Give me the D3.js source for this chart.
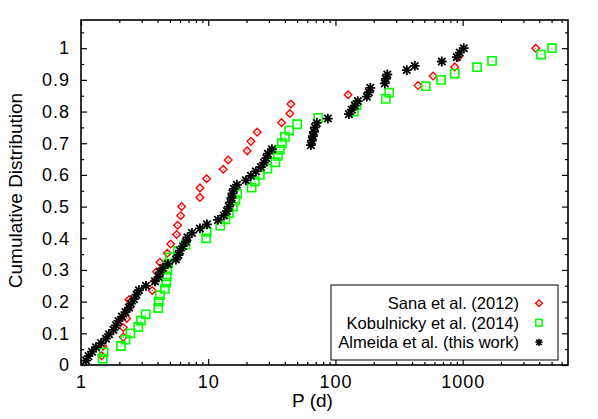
<!DOCTYPE html>
<html>
<head>
<meta charset="utf-8">
<script src="https://cdn.jsdelivr.net/npm/d3@7"></script>
<style>
  body { margin: 0; background: #fff; }
  text { font-family: "Liberation Sans", Arial, Helvetica, sans-serif; fill: #000; }
</style>
</head>
<body>
<div id="chart"></div>
<script>
// Sana et al. (2012)
const sanaP = [1.454, 1.489, 2.149, 2.15, 2.286, 2.34, 2.383, 3.632, 3.814, 3.932,
  4.175, 4.764, 5.066, 5.646, 5.749, 6.071, 6.182, 8.6, 8.607, 9.714,
  13.12, 14.36, 20.25, 21.65, 24.26, 37.72, 43.84, 44.63, 125.8, 446.1,
  585.6, 866.9, 920.2, 3752];
const sanaF = [0.029, 0.059, 0.088, 0.118, 0.147, 0.176, 0.206, 0.235, 0.265, 0.294,
  0.324, 0.353, 0.382, 0.412, 0.441, 0.471, 0.5, 0.529, 0.559, 0.588,
  0.618, 0.647, 0.676, 0.706, 0.735, 0.765, 0.794, 0.824, 0.853, 0.882,
  0.912, 0.941, 0.971, 1.0];

// Kobulnicky et al. (2014)
const kobP = [1.481, 1.508, 2.062, 2.236, 2.448, 2.819, 2.96, 3.224, 4.048, 4.086,
  4.175, 4.57, 4.679, 4.713, 4.782, 4.852, 5.003, 5.76, 6.623, 9.645,
  9.714, 12.43, 13.65, 14.54, 15.63, 16.36, 16.9, 21.93, 23.28, 25.48,
  29.17, 33.72, 35.28, 36.58, 37.93, 40.05, 43.28, 50.03, 73.13, 139.5,
  146.5, 248.9, 264.2, 513.1, 676.7, 866.9, 1298, 1702, 4129, 5040];
const kobF = [0.02, 0.04, 0.06, 0.08, 0.1, 0.12, 0.14, 0.16, 0.18, 0.2,
  0.22, 0.24, 0.26, 0.28, 0.3, 0.32, 0.34, 0.36, 0.38, 0.4,
  0.42, 0.44, 0.46, 0.48, 0.5, 0.52, 0.54, 0.56, 0.58, 0.6,
  0.62, 0.64, 0.66, 0.68, 0.7, 0.72, 0.74, 0.76, 0.78, 0.8,
  0.82, 0.84, 0.86, 0.88, 0.9, 0.92, 0.94, 0.96, 0.98, 1.0];

// Almeida et al. (this work)
const almP = [1.095, 1.145, 1.22, 1.312, 1.436, 1.572, 1.66, 1.8, 1.884, 1.97,
  2.099, 2.236, 2.383, 2.47, 2.609, 2.729, 2.855, 3.241, 3.814, 4.063,
  4.175, 4.407, 4.825, 5.576, 5.834, 5.994, 6.329, 6.681, 6.865, 7.447,
  8.607, 9.768, 11.92, 13.29, 14.03, 14.54, 14.94, 15.22, 15.49, 15.92,
  16.81, 19.78, 21.65, 23.7, 25.94, 27.39, 28.66, 29.44, 31.65, 64.11,
  65.27, 66.46, 67.68, 68.92, 71.42, 87.17, 127.5, 134.5, 142, 150,
  176.5, 183, 188, 244.4, 248.9, 255.7, 363.9, 420.5, 685.3, 898.8,
  948.9, 1020];
const almF = [0.014, 0.028, 0.042, 0.056, 0.069, 0.083, 0.097, 0.111, 0.125, 0.139,
  0.153, 0.167, 0.181, 0.194, 0.208, 0.222, 0.236, 0.25, 0.264, 0.278,
  0.292, 0.306, 0.319, 0.333, 0.347, 0.361, 0.375, 0.389, 0.403, 0.417,
  0.431, 0.444, 0.458, 0.472, 0.486, 0.5, 0.514, 0.528, 0.542, 0.556,
  0.569, 0.583, 0.597, 0.611, 0.625, 0.639, 0.653, 0.667, 0.681, 0.694,
  0.708, 0.722, 0.736, 0.75, 0.764, 0.778, 0.792, 0.806, 0.819, 0.833,
  0.847, 0.861, 0.875, 0.889, 0.903, 0.917, 0.931, 0.944, 0.958, 0.972,
  0.986, 1.0];

const xMajor = [1, 10, 100, 1000];
const yMajor = [0, 0.1, 0.2, 0.3, 0.4, 0.5, 0.6, 0.7, 0.8, 0.9, 1];
const legendLabels = ["Sana et al. (2012)", "Kobulnicky et al. (2014)", "Almeida et al. (this work)"];

// dimensions
let margin = {top: 20, right: 30, bottom: 54, left: 81},
  width = 598 - margin.left - margin.right,
  height = 419 - margin.top - margin.bottom;

let svg = d3.select("#chart")
  .append("svg")
  .attr("width", 598)
  .attr("height", 419)
    .append("g")
    .attr("transform", "translate(" + margin.left + "," + margin.top + ")");

let x = d3.scaleLog()
  .domain([1, 6730])
  .range([0, width]);

let y = d3.scaleLinear()
  .domain([0, 1.089])
  .range([height, 0]);

// minor tick values
let xMinor = [];
[1, 10, 100, 1000].forEach(d => { for (let k = 2; k <= 9; k++) if (d * k < 6730) xMinor.push(d * k); });
let yMinor = d3.range(0.05, 1.09, 0.1);

function cleanAxis(g) {
  g.select(".domain").remove();
  g.selectAll(".tick line").attr("stroke", "#000").attr("stroke-width", 1.2);
}

// bottom axis
svg.append("g")
  .attr("transform", "translate(0," + height + ")")
  .call(d3.axisBottom(x).tickValues(xMajor).tickFormat(d3.format("d")).tickSize(-6).tickPadding(10))
  .call(cleanAxis)
  .selectAll("text").attr("font-size", 18).attr("letter-spacing", 1);
svg.append("g")
  .attr("transform", "translate(0," + height + ")")
  .call(d3.axisBottom(x).tickValues(xMinor).tickFormat("").tickSize(-3))
  .call(cleanAxis);
// top axis
svg.append("g")
  .call(d3.axisTop(x).tickValues(xMajor).tickFormat("").tickSize(-6))
  .call(cleanAxis);
svg.append("g")
  .call(d3.axisTop(x).tickValues(xMinor).tickFormat("").tickSize(-3))
  .call(cleanAxis);
// left axis
svg.append("g")
  .call(d3.axisLeft(y).tickValues(yMajor).tickFormat(d3.format("")).tickSize(-6).tickPadding(11))
  .call(cleanAxis)
  .selectAll("text").attr("font-size", 18).attr("letter-spacing", 1);
svg.append("g")
  .call(d3.axisLeft(y).tickValues(yMinor).tickFormat("").tickSize(-3))
  .call(cleanAxis);
// right axis
svg.append("g")
  .attr("transform", "translate(" + width + ",0)")
  .call(d3.axisRight(y).tickValues(yMajor).tickFormat("").tickSize(-6))
  .call(cleanAxis);
svg.append("g")
  .attr("transform", "translate(" + width + ",0)")
  .call(d3.axisRight(y).tickValues(yMinor).tickFormat("").tickSize(-3))
  .call(cleanAxis);

// axis titles
svg.append("text")
  .attr("x", width / 2 - 12)
  .attr("y", height + 42)
  .attr("text-anchor", "middle")
  .attr("font-size", 19)
  .text("P (d)");
svg.append("text")
  .attr("transform", "translate(-59," + (height / 2 - 2) + ") rotate(-90)")
  .attr("text-anchor", "middle")
  .attr("font-size", 19)
  .text("Cumulative Distribution");

// marker paths
const diamond = r => `M0,${-r}L${r},0L0,${r}L${-r},0Z`;
const square = r => `M${-r},${-r}H${r}V${r}H${-r}Z`;
const star = r => {
  let s = r * 0.75;
  return `M${-r},0H${r}M0,${-r}V${r}M${-s},${-s}L${s},${s}M${-s},${s}L${s},${-s}`;
};

function drawSeries(P, F, path, color, sw, dot) {
  let pts = svg.append("g")
    .selectAll("g")
    .data(d3.zip(P, F))
    .enter()
    .append("g")
      .attr("transform", d => `translate(${x(d[0])},${y(d[1])})`);
  pts.append("path")
    .attr("d", path)
    .attr("fill", "none")
    .attr("stroke", color)
    .attr("stroke-width", sw);
  if (dot) {
    pts.append("rect")
      .attr("x", -0.5).attr("y", -0.5).attr("width", 1).attr("height", 1)
      .attr("fill", color);
  }
}

drawSeries(sanaP, sanaF, diamond(3.8), "#ff0000", 1.4, true);
drawSeries(kobP, kobF, square(4.1), "#00ff00", 1.6, true);
drawSeries(almP, almF, star(4.9), "#000", 1.8, false);

// frame
svg.append("rect")
  .attr("width", width)
  .attr("height", height)
  .attr("fill", "none")
  .attr("stroke", "#000")
  .attr("stroke-width", 1.6);

// legend
let legend = svg.append("g")
  .attr("transform", "translate(" + (331 - margin.left) + "," + (285 - margin.top) + ")");
legend.append("rect")
  .attr("width", 227)
  .attr("height", 75)
  .attr("fill", "#fff")
  .attr("stroke", "#000")
  .attr("stroke-width", 1);
const legendMarks = [
  {path: diamond(3.3), color: "#ff0000", dot: true, sw: 1.4},
  {path: square(3.2), color: "#00ff00", dot: true, sw: 1.5},
  {path: star(3.6), color: "#000", dot: false, sw: 1.6}
];
let rows = legend.selectAll(".row")
  .data(legendLabels)
  .enter()
  .append("g")
    .attr("class", "row")
    .attr("transform", (d, i) => `translate(0,${18.3 + i * 19.5})`);
rows.append("text")
  .attr("x", 188)
  .attr("dy", "0.35em")
  .attr("text-anchor", "end")
  .attr("font-size", 16.5)
  .text(d => d);
rows.append("path")
  .attr("transform", "translate(208,0)")
  .attr("d", (d, i) => legendMarks[i].path)
  .attr("fill", "none")
  .attr("stroke", (d, i) => legendMarks[i].color)
  .attr("stroke-width", (d, i) => legendMarks[i].sw);
rows.filter((d, i) => legendMarks[i].dot)
  .append("rect")
  .attr("x", 207.5).attr("y", -0.5).attr("width", 1).attr("height", 1)
  .attr("fill", (d, i) => legendMarks[i].color);
</script>
</body>
</html>
